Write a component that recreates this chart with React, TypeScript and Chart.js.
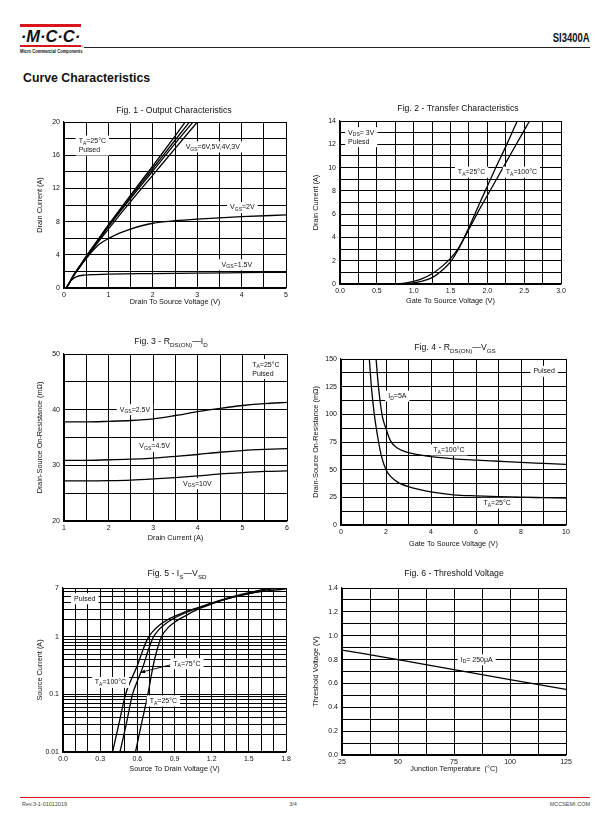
import React, { useEffect, useRef } from "react";
import { Chart, registerables } from "chart.js";
Chart.register(...registerables);

type Pt = [number, number];
const FONT = '"Liberation Sans", Arial, Helvetica, sans-serif';
const RED = "#d9141b";
const INK = "#111";

// ---------- Fig. 1 - Output Characteristics ----------
const FIG1_X_TICKS = ["0", "1", "2", "3", "4", "5"];
const FIG1_Y_TICKS = ["0", "4", "8", "12", "16", "20"];
const FIG1_VGS6: Pt[] = [[0.05, 0], [0.12, 0.6], [0.2, 1.4], [0.35, 2.6], [0.5, 3.8], [0.75, 5.7], [1, 7.6], [1.5, 11.2], [2, 14.7], [2.5, 18.3], [2.8, 20.5]];
const FIG1_VGS5: Pt[] = [[0.05, 0], [0.12, 0.6], [0.2, 1.4], [0.35, 2.6], [0.5, 3.8], [0.75, 5.65], [1, 7.5], [1.5, 11.0], [2, 14.4], [2.5, 17.8], [2.9, 20.5]];
const FIG1_VGS4: Pt[] = [[0.05, 0], [0.12, 0.6], [0.2, 1.4], [0.35, 2.55], [0.5, 3.7], [0.75, 5.55], [1, 7.4], [1.5, 10.8], [2, 14.1], [2.5, 17.4], [3.0, 20.6]];
const FIG1_VGS3: Pt[] = [[0.05, 0], [0.12, 0.6], [0.2, 1.35], [0.35, 2.5], [0.5, 3.6], [0.75, 5.4], [1, 7.1], [1.5, 10.4], [2, 13.6], [2.5, 16.8], [3.1, 20.6]];
const FIG1_VGS2: Pt[] = [[0.05, 0], [0.12, 0.6], [0.2, 1.35], [0.35, 2.5], [0.5, 3.55], [0.65, 4.5], [0.8, 5.3], [1, 5.95], [1.25, 6.6], [1.5, 7.1], [1.75, 7.5], [2, 7.8], [2.5, 8.1], [3, 8.3], [4, 8.6], [5, 8.8]];
const FIG1_VGS15: Pt[] = [[0.05, 0], [0.1, 0.45], [0.15, 0.85], [0.2, 1.1], [0.3, 1.4], [0.45, 1.55], [0.7, 1.62], [1, 1.67], [2, 1.74], [3, 1.8], [4, 1.85], [5, 1.9]];

// ---------- Fig. 2 - Transfer Characteristics ----------
const FIG2_X_TICKS = ["0.0", "0.5", "1.0", "1.5", "2.0", "2.5", "3.0"];
const FIG2_Y_TICKS = ["0", "2", "4", "6", "8", "10", "12", "14"];
const FIG2_T25: Pt[] = [[0, 0], [0.8, 0], [0.9, 0.03], [1.0, 0.1], [1.1, 0.22], [1.25, 0.55], [1.4, 1.25], [1.5, 1.9], [1.6, 2.9], [1.75, 4.85], [1.9, 7.0], [2.0, 8.4], [2.1, 9.8], [2.25, 11.8], [2.42, 14.2]];
const FIG2_T100: Pt[] = [[0, 0], [0.7, 0], [0.8, 0.03], [0.9, 0.1], [1.0, 0.23], [1.1, 0.42], [1.25, 0.88], [1.4, 1.6], [1.5, 2.2], [1.6, 3.0], [1.75, 4.7], [1.9, 6.5], [2.0, 7.6], [2.25, 10.4], [2.5, 13.2], [2.6, 14.3]];

// ---------- Fig. 3 - RDS(ON) vs ID ----------
const FIG3_X_TICKS = ["1", "2", "3", "4", "5", "6"];
const FIG3_Y_TICKS = ["20", "30", "40", "50"];
const FIG3_VGS25: Pt[] = [[1, 37.8], [1.5, 37.8], [2, 37.9], [2.5, 38.05], [3, 38.35], [3.5, 38.95], [4, 39.65], [4.5, 40.25], [5, 40.75], [5.5, 41.1], [6, 41.3]];
const FIG3_VGS45: Pt[] = [[1, 30.9], [1.5, 30.9], [2, 31.0], [2.5, 31.1], [3, 31.3], [3.5, 31.6], [4, 31.95], [4.5, 32.35], [5, 32.65], [5.5, 32.85], [6, 33.0]];
const FIG3_VGS10: Pt[] = [[1, 27.2], [1.5, 27.2], [2, 27.25], [2.5, 27.35], [3, 27.55], [3.5, 27.8], [4, 28.1], [4.5, 28.45], [5, 28.7], [5.5, 28.9], [6, 29.0]];

// ---------- Fig. 4 - RDS(ON) vs VGS ----------
const FIG4_X_TICKS = ["0", "2", "4", "6", "8", "10"];
const FIG4_Y_TICKS = ["0", "25", "50", "75", "100", "125", "150"];
const FIG4_T100: Pt[] = [[1.5, 165], [1.56, 150], [1.65, 128], [1.75, 110], [1.85, 97], [2.0, 87], [2.2, 76], [2.5, 69.5], [3, 65.5], [3.5, 63.3], [4, 61.7], [5, 59.8], [6, 58.6], [7, 57.6], [8, 56.6], [9, 55.7], [10, 54.8]];
const FIG4_T25: Pt[] = [[1.2, 168], [1.26, 150], [1.35, 125], [1.48, 100], [1.67, 75], [1.8, 62], [2.0, 50], [2.25, 43], [2.5, 39], [3, 34.6], [3.5, 32], [4, 30], [5, 27.3], [6, 26.3], [7, 25.6], [8, 25.1], [9, 24.7], [10, 24.3]];

// ---------- Fig. 5 - IS vs VSD ----------
const FIG5_X_TICKS = ["0.0", "0.3", "0.6", "0.9", "1.2", "1.5", "1.8"];
const FIG5_Y_TICKS = ["0.01", "0.1", "1", "7"];
const FIG5_T100: Pt[] = [[0.40, 0.01], [0.45, 0.03], [0.505, 0.1], [0.55, 0.18], [0.596, 0.3], [0.64, 0.55], [0.68, 0.9], [0.72, 1.2], [0.78, 1.6], [0.85, 2.0], [0.95, 2.5], [1.09, 3.2], [1.3, 4.5], [1.5, 5.8], [1.7, 7.2]];
const FIG5_T75: Pt[] = [[0.46, 0.01], [0.51, 0.03], [0.561, 0.1], [0.60, 0.17], [0.645, 0.3], [0.69, 0.6], [0.726, 0.95], [0.77, 1.3], [0.83, 1.7], [0.89, 2.05], [0.98, 2.55], [1.09, 3.15], [1.3, 4.4], [1.5, 5.6], [1.75, 7.2]];
const FIG5_T25: Pt[] = [[0.585, 0.01], [0.635, 0.032], [0.685, 0.1], [0.726, 0.3], [0.76, 0.6], [0.795, 1.0], [0.85, 1.45], [0.92, 1.9], [0.98, 2.25], [1.09, 3.0], [1.2, 3.7], [1.35, 4.7], [1.5, 5.6], [1.8, 6.8]];

// ---------- Fig. 6 - Threshold Voltage ----------
const FIG6_X_TICKS = ["25", "50", "75", "100", "125"];
const FIG6_Y_TICKS = ["0.0", "0.2", "0.4", "0.6", "0.8", "1.0", "1.2", "1.4"];
const FIG6_VTH: Pt[] = [[25, 0.88], [50, 0.80], [75, 0.715], [100, 0.632], [125, 0.55]];

interface Note { x: number; y: number; lines: string[][]; box?: boolean }
interface Arrow { from: Pt; to: Pt }
interface AxisSpec { min: number; max: number; step?: number; log?: boolean; labels: string[] }
interface FigSpec {
  plot: [number, number, number, number];
  title: string[]; titleX: number; titleY: number;
  xTitle: string; xTitleY: number;
  yTitle: string; yTitleX: number;
  x: AxisSpec; y: AxisSpec;
  series: Pt[][];
  notes: Note[];
  arrows?: Arrow[];
}

const M = { l: 56, t: 36, r: 26, b: 30 };

function gridValues(a: AxisSpec): number[] {
  if (a.log) {
    const out: number[] = [];
    let dec = Math.pow(10, Math.floor(Math.log10(a.min) + 1e-9));
    while (dec <= a.max * 1.0000001) {
      for (let d = 1; d <= 9; d++) {
        const v = parseFloat((d * dec).toPrecision(6));
        if (v >= a.min * 0.999999 && v <= a.max * 1.000001) out.push(v);
      }
      dec *= 10;
    }
    if (out[out.length - 1] < a.max) out.push(a.max);
    return out;
  }
  const n = Math.round((a.max - a.min) / (a.step as number));
  return Array.from({ length: n + 1 }, (_, i) => parseFloat((a.min + i * (a.step as number)).toPrecision(8)));
}

function labelFor(a: AxisSpec, v: number): string {
  for (const s of a.labels) {
    const n = parseFloat(s);
    if (Math.abs(n - v) <= Math.abs(n) * 1e-6 + 1e-9) return s;
  }
  return "";
}

function segParts(segs: string[]) {
  return segs.map((s) => (s.startsWith("_") ? { t: s.slice(1), sub: true } : { t: s, sub: false }));
}
function fontOf(size: number) {
  return `${size}px ${FONT}`;
}
function richWidth(ctx: CanvasRenderingContext2D, segs: string[], size: number) {
  let w = 0;
  for (const p of segParts(segs)) {
    ctx.font = fontOf(p.sub ? size * 0.72 : size);
    w += ctx.measureText(p.t).width;
  }
  return w;
}
function drawRich(ctx: CanvasRenderingContext2D, segs: string[], x: number, y: number, size: number, align: "left" | "center") {
  const total = richWidth(ctx, segs, size);
  let cx = align === "center" ? x - total / 2 : x;
  ctx.textAlign = "left";
  ctx.textBaseline = "middle";
  for (const p of segParts(segs)) {
    const s = p.sub ? size * 0.72 : size;
    ctx.font = fontOf(s);
    ctx.fillText(p.t, cx, p.sub ? y + size * 0.32 : y);
    cx += ctx.measureText(p.t).width;
  }
  return total;
}

function makePlugin(spec: FigSpec) {
  return {
    id: "deco",
    afterDraw(chart: any) {
      const ctx: CanvasRenderingContext2D = chart.ctx;
      const ox = spec.plot[0] - M.l;
      const oy = spec.plot[1] - M.t;
      const ca = chart.chartArea;
      const sx = chart.scales.x;
      const sy = chart.scales.y;
      ctx.save();
      ctx.fillStyle = INK;
      drawRich(ctx, spec.title, spec.titleX - ox, spec.titleY - oy, 8.7, "center");
      drawRich(ctx, [spec.xTitle], (ca.left + ca.right) / 2, spec.xTitleY - oy, 7.3, "center");
      ctx.save();
      ctx.translate(spec.yTitleX - ox, (ca.top + ca.bottom) / 2);
      ctx.rotate(-Math.PI / 2);
      drawRich(ctx, [spec.yTitle], 0, 0, 7.3, "center");
      ctx.restore();

      for (const a of spec.arrows || []) {
        const x1 = sx.getPixelForValue(a.from[0]);
        const y1 = sy.getPixelForValue(a.from[1]);
        const x2 = sx.getPixelForValue(a.to[0]);
        const y2 = sy.getPixelForValue(a.to[1]);
        ctx.strokeStyle = "#000";
        ctx.lineWidth = 0.9;
        ctx.beginPath();
        ctx.moveTo(x1, y1);
        ctx.lineTo(x2, y2);
        ctx.stroke();
        const ang = Math.atan2(y2 - y1, x2 - x1);
        ctx.fillStyle = "#000";
        ctx.beginPath();
        ctx.moveTo(x2, y2);
        ctx.lineTo(x2 - 5 * Math.cos(ang - 0.4), y2 - 5 * Math.sin(ang - 0.4));
        ctx.lineTo(x2 - 5 * Math.cos(ang + 0.4), y2 - 5 * Math.sin(ang + 0.4));
        ctx.closePath();
        ctx.fill();
      }

      const size = 7;
      const lh = 9;
      for (const n of spec.notes) {
        const px = sx.getPixelForValue(n.x);
        const py = sy.getPixelForValue(n.y);
        if (n.box !== false) {
          let w = 0;
          for (const l of n.lines) w = Math.max(w, richWidth(ctx, l, size));
          ctx.fillStyle = "#fff";
          ctx.fillRect(px - 3, py - 5.5, w + 6, (n.lines.length - 1) * lh + 11);
        }
        ctx.fillStyle = INK;
        n.lines.forEach((l, i) => drawRich(ctx, l, px, py + i * lh, size, "left"));
      }
      ctx.restore();
    },
  };
}

function scaleOpts(a: AxisSpec, isX: boolean) {
  return {
    type: a.log ? "logarithmic" : "linear",
    min: a.min,
    max: a.max,
    afterBuildTicks: (s: any) => {
      s.ticks = gridValues(a).map((v) => ({ value: v }));
    },
    afterFit: (s: any) => {
      if (isX) s.height = M.b;
      else s.width = M.l;
    },
    grid: { color: "#000", lineWidth: 1, drawTicks: false },
    border: { display: true, color: "#000", width: 1.2 },
    ticks: {
      autoSkip: false,
      maxRotation: 0,
      minRotation: 0,
      padding: isX ? 3 : 4,
      color: INK,
      font: { family: FONT, size: 7 },
      callback: (v: any) => labelFor(a, Number(v)),
    },
    title: { display: false },
  };
}

function buildConfig(spec: FigSpec): any {
  return {
    type: "line",
    data: {
      datasets: spec.series.map((s) => ({
        data: s.map(([x, y]) => ({ x, y })),
        borderColor: "#000",
        borderWidth: 1.3,
        pointRadius: 0,
        fill: false,
        cubicInterpolationMode: "monotone",
      })),
    },
    options: {
      animation: false,
      responsive: false,
      devicePixelRatio: 1,
      events: [],
      layout: { padding: { left: 0, top: M.t, right: M.r, bottom: 0 } },
      plugins: { legend: { display: false }, tooltip: { enabled: false }, title: { display: false } },
      scales: { x: scaleOpts(spec.x, true), y: scaleOpts(spec.y, false) },
    },
    plugins: [makePlugin(spec)],
  };
}

const FIGS: FigSpec[] = [
  {
    plot: [64, 122, 286, 288],
    title: ["Fig. 1 - Output Characteristics"], titleX: 174, titleY: 111,
    xTitle: "Drain To Source Voltage (V)", xTitleY: 302,
    yTitle: "Drain Current (A)", yTitleX: 40,
    x: { min: 0, max: 5, step: 0.5, labels: FIG1_X_TICKS },
    y: { min: 0, max: 20, step: 2, labels: FIG1_Y_TICKS },
    series: [FIG1_VGS6, FIG1_VGS5, FIG1_VGS4, FIG1_VGS3, FIG1_VGS2, FIG1_VGS15],
    notes: [
      { x: 0.33, y: 17.7, lines: [["T", "_A", "=25°C"], ["Pulsed"]] },
      { x: 2.74, y: 17.0, lines: [["V", "_GS", "=6V,5V,4V,3V"]] },
      { x: 3.74, y: 9.7, lines: [["V", "_GS", "=2V"]] },
      { x: 3.55, y: 2.8, lines: [["V", "_GS", "=1.5V"]] },
    ],
  },
  {
    plot: [340, 121, 561, 284],
    title: ["Fig. 2 - Transfer Characteristics"], titleX: 458, titleY: 108.5,
    xTitle: "Gate To Source Voltage (V)", xTitleY: 301,
    yTitle: "Drain Current (A)", yTitleX: 316,
    x: { min: 0, max: 3, step: 0.25, labels: FIG2_X_TICKS },
    y: { min: 0, max: 14, step: 1, labels: FIG2_Y_TICKS },
    series: [FIG2_T25, FIG2_T100],
    notes: [
      { x: 0.11, y: 13.0, lines: [["V", "_DS", "= 3V"], ["Pulesd"]] },
      { x: 1.6, y: 9.6, lines: [["T", "_A", "=25°C"]] },
      { x: 2.25, y: 9.6, lines: [["T", "_A", "=100°C"]] },
    ],
  },
  {
    plot: [64, 354, 287, 521],
    title: ["Fig. 3 - R", "_DS(ON)", "—I", "_D"], titleX: 171, titleY: 342,
    xTitle: "Drain Current (A)", xTitleY: 538,
    yTitle: "Drain-Source On-Resistance (mΩ)", yTitleX: 40,
    x: { min: 1, max: 6, step: 0.5, labels: FIG3_X_TICKS },
    y: { min: 20, max: 50, step: 5, labels: FIG3_Y_TICKS },
    series: [FIG3_VGS25, FIG3_VGS45, FIG3_VGS10],
    notes: [
      { x: 5.22, y: 48.1, lines: [["T", "_A", "=25°C"], ["Pulsed"]] },
      { x: 2.25, y: 40.0, lines: [["V", "_GS", "=2.5V"]] },
      { x: 2.69, y: 33.4, lines: [["V", "_GS", "=4.5V"]] },
      { x: 3.67, y: 26.7, lines: [["V", "_GS", "=10V"]] },
    ],
  },
  {
    plot: [341, 359, 566, 525],
    title: ["Fig. 4 - R", "_DS(ON)", "—V", "_GS"], titleX: 455, titleY: 348,
    xTitle: "Gate To Source Voltage (V)", xTitleY: 544,
    yTitle: "Drain-Source On-Resistance (mΩ)", yTitleX: 316,
    x: { min: 0, max: 10, step: 1, labels: FIG4_X_TICKS },
    y: { min: 0, max: 150, step: 12.5, labels: FIG4_Y_TICKS },
    series: [FIG4_T100, FIG4_T25],
    notes: [
      { x: 8.55, y: 138.9, lines: [["Pulsed"]] },
      { x: 2.1, y: 116.5, lines: [["I", "_D", "=5A"]] },
      { x: 4.1, y: 67.8, lines: [["T", "_A", "=100°C"]] },
      { x: 6.33, y: 19.6, lines: [["T", "_A", "=25°C"]] },
    ],
  },
  {
    plot: [63, 588, 286, 752],
    title: ["Fig. 5 - I", "_S", "—V", "_SD"], titleX: 177, titleY: 574,
    xTitle: "Source To Drain Voltage (V)", xTitleY: 769,
    yTitle: "Source Current (A)", yTitleX: 40,
    x: { min: 0, max: 1.8, step: 0.1, labels: FIG5_X_TICKS },
    y: { min: 0.01, max: 7, log: true, labels: FIG5_Y_TICKS },
    series: [FIG5_T100, FIG5_T75, FIG5_T25],
    arrows: [{ from: [0.88, 0.33], to: [0.626, 0.24] }],
    notes: [
      { x: 0.089, y: 4.56, lines: [["Pulsed"]] },
      { x: 0.89, y: 0.34, lines: [["T", "_A", "=75°C"]] },
      { x: 0.257, y: 0.161, lines: [["T", "_A", "=100°C"]] },
      { x: 0.7, y: 0.077, lines: [["T", "_A", "=25°C"]] },
    ],
  },
  {
    plot: [342, 588, 566, 755],
    title: ["Fig. 6 - Threshold Voltage"], titleX: 454, titleY: 574,
    xTitle: "Junction Temperature  (°C)", xTitleY: 769,
    yTitle: "Threshold Voltage (V)", yTitleX: 316,
    x: { min: 25, max: 125, step: 12.5, labels: FIG6_X_TICKS },
    y: { min: 0, max: 1.4, step: 0.1, labels: FIG6_Y_TICKS },
    series: [FIG6_VTH],
    notes: [{ x: 78, y: 0.798, lines: [["I", "_D", "= 250μA"]] }],
  },
];

function Fig({ spec }: { spec: FigSpec }) {
  const ref = useRef<HTMLCanvasElement>(null);
  const [p0, p1, p2, p3] = spec.plot;
  const w = p2 - p0 + M.l + M.r;
  const h = p3 - p1 + M.t + M.b;
  useEffect(() => {
    const chart = new Chart(ref.current as HTMLCanvasElement, buildConfig(spec));
    return () => chart.destroy();
  }, [spec]);
  return (
    <canvas
      ref={ref}
      width={w}
      height={h}
      style={{ position: "absolute", left: p0 - M.l, top: p1 - M.t, width: w, height: h, display: "block" }}
    />
  );
}

const abs = (s: React.CSSProperties): React.CSSProperties => ({ position: "absolute", ...s });

export default function App() {
  return (
    <div style={abs({ left: 0, top: 0, width: 612, height: 825, overflow: "hidden", background: "#fff", fontFamily: FONT, color: INK })}>
      {/* header */}
      <div style={abs({ left: 20, top: 24, width: 61, height: 2.5, background: RED })} />
      <div style={abs({ left: 20, top: 44.5, width: 61, height: 2.5, background: RED })} />
      <div style={abs({ left: 19, top: 27, width: 63, height: 18, font: `italic bold 16.5px ${FONT}`, lineHeight: "18px", textAlign: "center", whiteSpace: "nowrap" })}>·M·C·C·</div>
      <div style={abs({ left: 20, top: 47.5, fontSize: 5.2, fontWeight: "bold", lineHeight: "6px", whiteSpace: "nowrap", transform: "scaleX(0.8)", transformOrigin: "left top" })}>Micro Commercial Components</div>
      <div style={abs({ left: 81, top: 45, fontSize: 3.5, lineHeight: "4px" })}>®</div>
      <div style={abs({ left: 84, top: 47, width: 506, height: 1.3, background: "#222" })} />
      <div style={abs({ right: 22, top: 31, fontSize: 12.5, fontWeight: "bold", lineHeight: "15px", whiteSpace: "nowrap", transform: "scaleX(0.76)", transformOrigin: "right top" })}>SI3400A</div>
      <div style={abs({ left: 23, top: 70, fontSize: 12.3, fontWeight: "bold", lineHeight: "16px", whiteSpace: "nowrap" })}>Curve Characteristics</div>

      {FIGS.map((f, i) => (
        <Fig key={i} spec={f} />
      ))}

      {/* footer */}
      <div style={abs({ left: 20, top: 796.5, width: 570, height: 1.3, background: RED })} />
      <div style={abs({ left: 22, top: 801, fontSize: 5.5, lineHeight: "7px", color: "#444", whiteSpace: "nowrap" })}>Rev.3-1-01012019</div>
      <div style={abs({ left: 283, top: 801, width: 20, textAlign: "center", fontSize: 5.5, lineHeight: "7px", color: "#444" })}>3/4</div>
      <div style={abs({ right: 22, top: 801, fontSize: 5.5, lineHeight: "7px", color: "#444", whiteSpace: "nowrap" })}>MCCSEMI.COM</div>
    </div>
  );
}
